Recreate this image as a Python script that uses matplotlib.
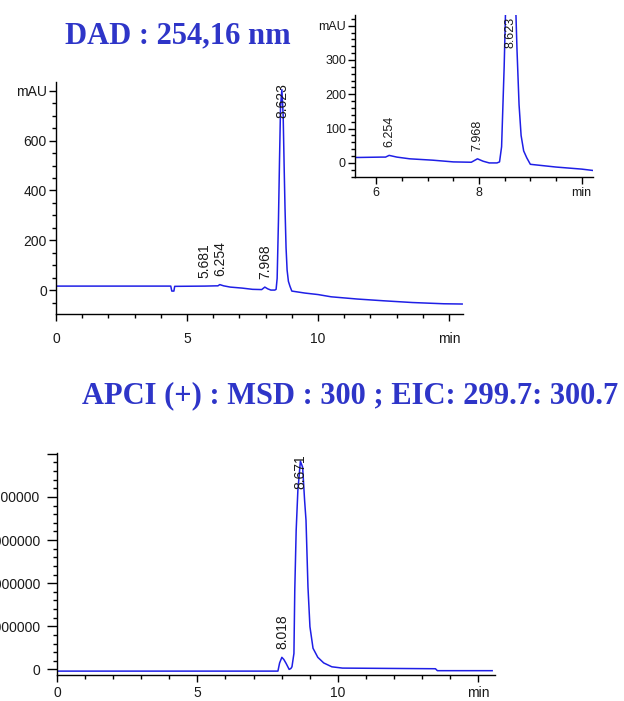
import matplotlib
matplotlib.use("Agg")
import matplotlib.pyplot as plt
import numpy as np
from matplotlib.ticker import MultipleLocator

# DAD trace at 254 nm: retention time (min) and absorbance (mAU)
dad_time = [0.0, 4.38, 4.42, 4.50, 4.53, 5.68, 6.10, 6.18, 6.25, 6.40, 6.65, 7.10,
            7.50, 7.85, 7.97, 8.08, 8.20, 8.35, 8.40, 8.44, 8.49, 8.53, 8.57,
            8.62, 8.67, 8.71, 8.74, 8.78, 8.82, 8.87, 8.93, 9.00, 9.50, 10.0,
            10.5, 11.5, 12.5, 13.6, 14.8, 15.5]
dad_mau = [16, 16, -4, -4, 15, 16, 17, 17, 22, 17, 12, 8,
           3, 2, 12, 5, 0, 0, 3, 47, 280, 520, 740,
           805, 700, 480, 330, 170, 80, 35, 15, -4, -12, -18,
           -27, -36, -43, -50, -55, -56]
dad_peaks = [5.681, 6.254, 7.968, 8.623]
zoom_peaks = [6.254, 7.968, 8.623]

# EIC 299.7-300.7 from the MSD (APCI positive): time (min) and counts
msd_time = [0.0, 7.87, 7.93, 8.01, 8.08, 8.16, 8.27, 8.33, 8.37, 8.44, 8.47,
            8.52, 8.58, 8.67, 8.75, 8.82, 8.87, 8.94, 9.01, 9.12, 9.29, 9.50,
            9.79, 10.17, 13.48, 13.55, 15.5]
msd_counts = [-40000, -40000, 150000, 280000, 230000, 140000, 0, 20000, 60000,
              370000, 1840000, 3230000, 4150000, 4830000, 4690000, 3920000,
              3460000, 1910000, 990000, 490000, 280000, 150000, 60000, 30000,
              15000, -30000, -30000]
msd_peaks = [8.018, 8.671]

dad_yticks = [0, 200, 400, 600, 800]
dad_ylabels = ["0", "200", "400", "600", "mAU"]
dad_xticks = [0, 5, 10, 15]
dad_xlabels = ["0", "5", "10", "min"]

zoom_yticks = [0, 100, 200, 300, 400]
zoom_ylabels = ["0", "100", "200", "300", "mAU"]
zoom_xticks = [6, 8, 10]
zoom_xlabels = ["6", "8", "min"]

msd_yticks = [0, 1000000, 2000000, 3000000, 4000000, 5000000]
msd_ylabels = ["0", "1000000", "2000000", "3000000", "4000000", ""]
msd_xticks = [0, 5, 10, 15]
msd_xlabels = ["0", "5", "10", "min"]

line_color = "#1f1fe6"
title_color = "#2e35c8"
text_color = "#1a1a1a"
tick_font = "Liberation Sans"


def style_axes(ax, xminor, yminor, size=10, xpad=4):
    ax.spines["top"].set_visible(False)
    ax.spines["right"].set_visible(False)
    for side in ["left", "bottom"]:
        ax.spines[side].set_linewidth(1.0)
    ax.xaxis.set_minor_locator(MultipleLocator(xminor))
    ax.yaxis.set_minor_locator(MultipleLocator(yminor))
    ax.tick_params(which="major", direction="out", width=1.0, length=5,
                   labelsize=size, labelcolor=text_color)
    ax.tick_params(which="minor", direction="out", width=1.0, length=3)
    ax.tick_params(axis="y", which="major", pad=1.5)
    ax.tick_params(axis="x", which="major", pad=xpad)
    for lab in ax.get_xticklabels() + ax.get_yticklabels():
        lab.set_fontfamily(tick_font)


def label_peaks(ax, times, values, peaks, size=10):
    top = ax.get_ylim()[1]
    for p in peaks:
        h = np.interp(p, times, values)
        if h > 0.7 * top:
            # tall peaks: label hangs down from the top of the frame
            ax.annotate(f"{p:.3f}", (p, top), xytext=(0, -1),
                        textcoords="offset points", rotation=90,
                        ha="center", va="top", fontsize=size,
                        color=text_color, family=tick_font)
        else:
            ax.annotate(f"{p:.3f}", (p, h), xytext=(0, 6),
                        textcoords="offset points", rotation=90,
                        ha="center", va="bottom", fontsize=size,
                        color=text_color, family=tick_font)


fig = plt.figure(figsize=(6.24, 7.01), dpi=100)

# full DAD chromatogram
ax1 = fig.add_axes([0.0897, 0.5521, 0.6522, 0.331])
ax1.plot(dad_time, dad_mau, color=line_color, lw=1.1)
ax1.set_xlim(0, 15.53)
ax1.set_ylim(-96, 836)
ax1.set_xticks(dad_xticks, dad_xlabels)
ax1.set_yticks(dad_yticks, dad_ylabels)
style_axes(ax1, 1, 50, xpad=8)
label_peaks(ax1, dad_time, dad_mau, dad_peaks)

# zoom on the minor peaks
ax2 = fig.add_axes([0.5689, 0.7475, 0.3814, 0.2311])
ax2.patch.set_alpha(0)
ax2.plot(dad_time, dad_mau, color=line_color, lw=1.1)
ax2.set_xlim(5.585, 10.22)
ax2.set_ylim(-41, 431)
ax2.set_xticks(zoom_xticks, zoom_xlabels)
ax2.set_yticks(zoom_yticks, zoom_ylabels)
style_axes(ax2, 0.5, 20, size=9, xpad=2.5)
label_peaks(ax2, dad_time, dad_mau, zoom_peaks, size=9)

# extracted ion chromatogram
ax3 = fig.add_axes([0.0913, 0.0371, 0.7019, 0.3167])
ax3.plot(msd_time, msd_counts, color=line_color, lw=1.1)
ax3.set_xlim(0, 15.6)
ax3.set_ylim(-130000, 5020000)
ax3.set_xticks(msd_xticks, msd_xlabels)
ax3.set_yticks(msd_yticks, msd_ylabels)
style_axes(ax3, 1, 200000, xpad=3)
ax3.tick_params(axis="y", which="major", length=7, pad=5)
label_peaks(ax3, msd_time, msd_counts, msd_peaks)

fig.text(65 / 624, 1 - 43 / 701, "DAD : 254,16 nm", ha="left", va="baseline",
         fontsize=22, fontweight="bold", family="Liberation Serif",
         color=title_color)
fig.text(618 / 624, 1 - 403 / 701, "APCI (+) : MSD : 300 ; EIC: 299.7: 300.7",
         ha="right", va="baseline", fontsize=22, fontweight="bold",
         family="Liberation Serif", color=title_color)

fig.savefig("out.png", dpi=100)
